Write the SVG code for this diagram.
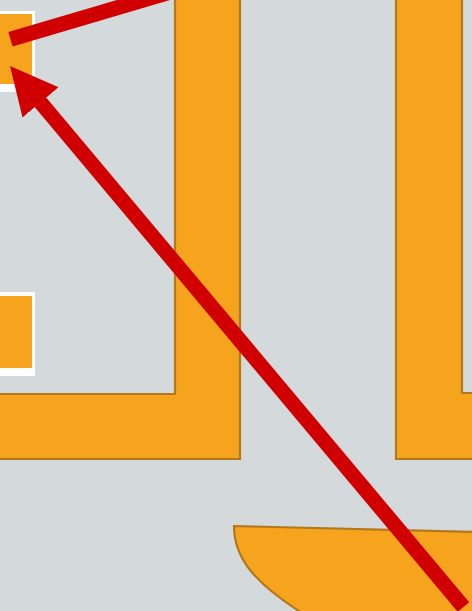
<svg xmlns="http://www.w3.org/2000/svg" width="472" height="611" viewBox="0 0 472 611">
  <style>
    .frame { fill: #f6a31e; stroke: #b3771c; stroke-width: 2.2; stroke-linejoin: miter; }
    .box-border { fill: #ffffff; }
    .box-fill { fill: #f6a31e; }
    .conn { fill: none; stroke: #d10000; stroke-width: 15; stroke-linecap: butt; }
  </style>
  <defs>
    <marker id="head" markerUnits="userSpaceOnUse" markerWidth="48" markerHeight="48" viewBox="0 0 48 47" refX="17.5" refY="23.5" orient="auto">
      <path d="M0,0 L47.5,23.5 L0,47 Z" fill="#d10000"/>
    </marker>
  </defs>
  <rect x="0" y="0" width="472" height="611" fill="#d4dadb"/>
  <g id="left-frame">
    <path class="frame" d="M175,-5 V394 H-5 V459 H240 V-5 Z"/>
  </g>
  <g id="right-frame">
    <path class="frame" d="M396,-5 V459 H478 V393 H462 V-5 Z"/>
  </g>
  <g id="bottom-shape">
    <path class="frame" d="M234,526 L480,532 L480,620 L310,620 L302,613 C250,580 234,555 234,526 Z"/>
  </g>
  <g id="box-top">
    <rect class="box-border" x="-5" y="11" width="40" height="81"/>
    <rect class="box-fill" x="-5" y="14" width="37" height="70"/>
  </g>
  <g id="box-bottom">
    <rect class="box-border" x="-5" y="292" width="40" height="84"/>
    <rect class="box-fill" x="-5" y="296" width="37" height="72"/>
  </g>
  <g id="connectors">
    <line class="conn" x1="10.5" y1="39.2" x2="250" y2="-31.4"/>
    <line class="conn" x1="463.5" y1="607" x2="29.3" y2="89" marker-end="url(#head)"/>
  </g>
</svg>
